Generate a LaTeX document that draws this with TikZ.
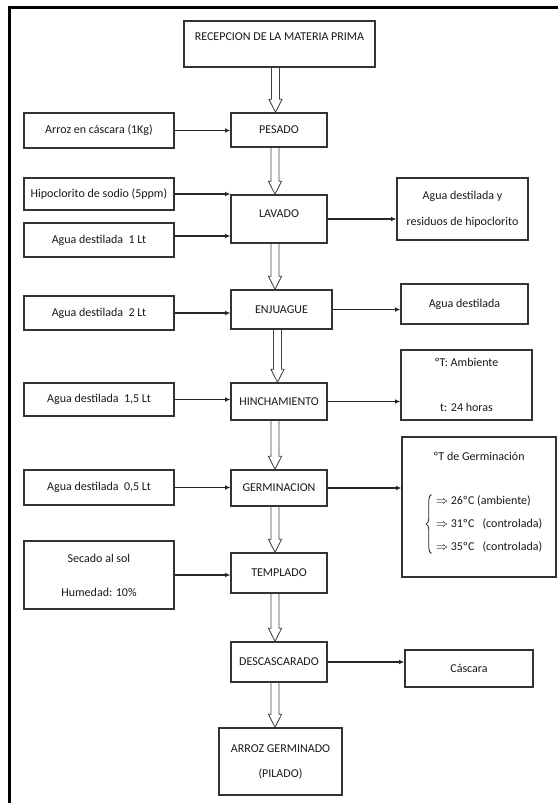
\documentclass[tikz,border=0pt]{standalone}
\usepackage{fontspec}
\setmainfont{Carlito}
\usetikzlibrary{arrows.meta,calc,shadows,decorations.pathreplacing}

\begin{document}
\begin{tikzpicture}[x=0.75pt,y=-0.75pt,font=\fontsize{9}{11}\selectfont,box/.style={draw=black!80,line width=1pt,fill=white,align=center,text=black!90,inner sep=2pt,drop shadow={shadow xshift=0.6pt,shadow yshift=-0.6pt,opacity=0.45}},stage/.style={box,minimum width=72pt},inbox/.style={box,minimum width=112.5pt},arr/.style={-{Latex[length=4pt,width=3.6pt]},line width=0.95pt,draw=black!85},flow/.style={draw=black!75,line width=0.6pt,to path={let \p1=(\tikztostart),\p2=(\tikztotarget) in (\x1-6pt,\y1) -- (\x1-6pt,\y2+9.75pt) -- (\x1-7.9pt,\y2+9.75pt) -- (\x1-3pt,\y2) -- (\x1+1.9pt,\y2+9.75pt) -- (\x1,\y2+9.75pt) -- (\x1,\y1)}}]
\useasboundingbox (0,0) rectangle (558,803);
\draw[line width=2.25pt] (558,7) -- (9,7) -- (9,803);
% main line
\node[box,minimum width=143.25pt,minimum height=34.5pt,text depth=10.5pt] (rec) at (279.5,44){RECEPCION DE LA MATERIA PRIMA};
\node[stage,minimum height=25.5pt] (pes) at (279,130){PESADO};
\node[stage,minimum height=36pt,text depth=7.5pt] (lav) at (279,219){LAVADO};
\node[stage,minimum width=75.75pt,minimum height=29.25pt] (enj) at (281.5,309.5){ENJUAGUE};
\node[stage,minimum height=27.75pt] (hin) at (279,401.5){HINCHAMIENTO};
\node[stage,minimum height=27pt] (ger) at (279,488){GERMINACION};
\node[stage,minimum height=30pt] (tem) at (279,573){TEMPLADO};
\node[stage,minimum height=30pt] (des) at (279,662){DESCASCARADO};
\node[box,minimum width=92.25pt,minimum height=50.25pt] (pil) at (280.5,761.5){ARROZ GERMINADO\\[7.75pt](PILADO)};
% inputs
\node[inbox,minimum height=26.25pt] (in1) at (99,130.5){Arroz en cáscara (1Kg)};
\node[inbox,minimum height=24pt] (in2) at (99,194){Hipoclorito de sodio (5ppm)};
\node[inbox,minimum height=25.5pt] (in3) at (99,240){Agua destilada~ 1 Lt};
\node[inbox,minimum height=25.5pt] (in4) at (99,313){Agua destilada~ 2 Lt};
\node[inbox,minimum height=24.75pt] (in5) at (99,399.5){Agua destilada~ 1,5 Lt};
\node[inbox,minimum height=26.25pt] (in6) at (99,487.5){Agua destilada~ 0,5 Lt};
\node[inbox,minimum height=51pt] (in7) at (99,575){Secado al sol\\[14.5pt]Humedad: 10\%};
% outputs
\node[box,minimum width=98.25pt,minimum height=46.5pt] (out1) at (462.5,209){Agua destilada y\\[8.5pt]residuos de hipoclorito};
\node[box,minimum width=95.25pt,minimum height=30pt] (out2) at (464.5,304){Agua destilada};
\node[box,minimum width=98.25pt,minimum height=52.5pt] (out3) at (466.5,385){ºT: Ambiente\\[22.75pt]t: 24 horas};
\node[box,minimum width=115.5pt,minimum height=105pt] (out4) at (479,507){};
\node[text=black!90] (out4t) at (479,456){ºT de Germinación};
\node[text=black!90,inner sep=0pt,align=left] (out4l) at (489,524){$\Rightarrow$\ 26ºC (ambiente)\\[6pt]$\Rightarrow$\ 31ºC\ \ \ (controlada)\\[6pt]$\Rightarrow$\ 35ºC\ \ \ (controlada)};
\draw[black!85,line width=0.6pt,decorate,decoration={brace,amplitude=4pt}] ([xshift=-3pt,yshift=-1pt]out4l.south west) -- ([xshift=-3pt,yshift=1pt]out4l.north west);
\node[box,minimum width=96pt,minimum height=27.75pt] (out5) at (469,668.5){Cáscara};
% connectors
\draw[flow] (rec.south) to (pes.north);\draw[flow] (pes.south) to (lav.north);\draw[flow] (lav.south) to (enj.north);\draw[flow] (enj.south) to (hin.north);
\draw[flow] (hin.south) to (ger.north);\draw[flow] (ger.south) to (tem.north);\draw[flow] (tem.south) to (des.north);\draw[flow] (des.south) to (pil.north);
\draw[arr] (in1.east) -- (in1.east -| pes.west);\draw[arr] (in2.east) -- (in2.east -| lav.west);\draw[arr] ([yshift=3pt]in3.east) -- ([yshift=3pt]in3.east -| lav.west);
\draw[arr] (in4.east) -- (in4.east -| enj.west);\draw[arr] (in5.east) -- (in5.east -| hin.west);\draw[arr] (in6.east) -- (in6.east -| ger.west);\draw[arr] (in7.east) -- (in7.east -| tem.west);
\draw[arr] (lav.east) -- (lav.east -| out1.west);\draw[arr] (enj.east) -- (enj.east -| out2.west);\draw[arr] (hin.east) -- (hin.east -| out3.west);
\draw[arr] (ger.east) -- (ger.east -| out4.west);\draw[arr] (des.east) -- (des.east -| out5.west);
\end{tikzpicture}
\end{document}
